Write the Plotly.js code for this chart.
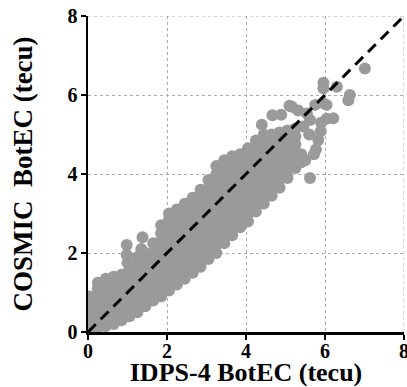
<!DOCTYPE html>
<html>
<head>
<meta charset="utf-8">
<script src="https://cdn.plot.ly/plotly-3.0.1.min.js"></script>
<style>html,body{margin:0;padding:0;background:#fff;}#chart{width:407px;height:387px;}</style>
</head>
<body>
<div id="chart"></div>
<script>
// Scatter points: [IDPS-4 BotEC, COSMIC BotEC] (tecu)
const points = [
 [0.05,0.1],[0.05,0.3],[0.05,0.5],[0.05,0.7],[0.05,0.9],
 [0.25,0.1],[0.25,0.3],[0.25,0.5],[0.25,0.7],[0.25,0.9],[0.25,1.1],[0.25,1.25],
 [0.45,0.15],[0.45,0.35],[0.45,0.55],[0.45,0.75],[0.45,0.95],[0.45,1.15],[0.45,1.35],
 [0.65,0.2],[0.65,0.4],[0.65,0.6],[0.65,0.8],[0.65,1.0],[0.65,1.2],[0.65,1.4],
 [0.85,0.3],[0.85,0.5],[0.85,0.7],[0.85,0.9],[0.85,1.1],[0.85,1.3],[0.85,1.45],
 [1.0,1.75],[0.98,1.95],[0.98,2.2],
 [1.05,0.4],[1.05,0.6],[1.05,0.8],[1.05,1.0],[1.05,1.2],[1.05,1.4],[1.05,1.6],
 [1.25,0.5],[1.25,0.7],[1.25,0.9],[1.25,1.1],[1.25,1.3],[1.25,1.5],[1.25,1.7],[1.25,1.9],
 [1.35,2.1],[1.38,2.4],
 [1.45,0.65],[1.45,0.85],[1.45,1.05],[1.45,1.25],[1.45,1.45],[1.45,1.65],[1.45,1.85],[1.45,2.0],
 [1.65,0.8],[1.65,1.0],[1.65,1.2],[1.65,1.4],[1.65,1.6],[1.65,1.8],[1.65,2.0],[1.65,2.25],
 [1.85,0.9],[1.85,1.1],[1.85,1.3],[1.85,1.5],[1.85,1.7],[1.85,1.9],[1.85,2.1],[1.85,2.3],[1.85,2.5],[1.85,2.7],
 [2.05,1.05],[2.05,1.25],[2.05,1.45],[2.05,1.65],[2.05,1.85],[2.05,2.05],[2.05,2.25],[2.05,2.45],[2.05,2.65],[2.05,2.85],[2.05,3.0],
 [2.25,1.2],[2.25,1.4],[2.25,1.6],[2.25,1.8],[2.25,2.0],[2.25,2.2],[2.25,2.4],[2.25,2.6],[2.25,2.8],[2.25,3.0],[2.25,3.1],
 [2.45,1.35],[2.45,1.55],[2.45,1.75],[2.45,1.95],[2.45,2.15],[2.45,2.35],[2.45,2.55],[2.45,2.75],[2.45,2.95],[2.45,3.15],[2.45,3.25],
 [2.65,1.5],[2.65,1.7],[2.65,1.9],[2.65,2.1],[2.65,2.3],[2.65,2.5],[2.65,2.7],[2.65,2.9],[2.65,3.1],[2.65,3.3],[2.65,3.4],
 [2.85,1.65],[2.85,1.85],[2.85,2.05],[2.85,2.25],[2.85,2.45],[2.85,2.65],[2.85,2.85],[2.85,3.05],[2.85,3.25],[2.85,3.45],[2.85,3.6],
 [3.05,1.85],[3.05,2.05],[3.05,2.25],[3.05,2.45],[3.05,2.65],[3.05,2.85],[3.05,3.05],[3.05,3.25],[3.05,3.45],[3.05,3.65],[3.05,3.85],
 [3.25,2.0],[3.25,2.2],[3.25,2.4],[3.25,2.6],[3.25,2.8],[3.25,3.0],[3.25,3.2],[3.25,3.4],[3.25,3.6],[3.25,3.8],[3.25,4.0],[3.25,4.2],
 [3.45,2.25],[3.45,2.45],[3.45,2.65],[3.45,2.85],[3.45,3.05],[3.45,3.25],[3.45,3.45],[3.45,3.65],[3.45,3.85],[3.45,4.05],[3.45,4.25],[3.45,4.35],
 [3.65,2.45],[3.65,2.65],[3.65,2.85],[3.65,3.05],[3.65,3.25],[3.65,3.45],[3.65,3.65],[3.65,3.85],[3.65,4.05],[3.65,4.25],[3.65,4.45],
 [3.85,2.65],[3.85,2.85],[3.85,3.05],[3.85,3.25],[3.85,3.45],[3.85,3.65],[3.85,3.85],[3.85,4.05],[3.85,4.25],[3.85,4.5],
 [4.05,2.8],[4.05,3.0],[4.05,3.2],[4.05,3.4],[4.05,3.6],[4.05,3.8],[4.05,4.0],[4.05,4.2],[4.05,4.4],[4.05,4.65],
 [4.25,3.05],[4.25,3.25],[4.25,3.45],[4.25,3.65],[4.25,3.85],[4.25,4.05],[4.25,4.25],[4.25,4.45],[4.25,4.65],[4.25,4.85],
 [4.45,3.25],[4.45,3.45],[4.45,3.65],[4.45,3.85],[4.45,4.05],[4.45,4.25],[4.45,4.45],[4.45,4.65],[4.45,4.85],[4.45,5.0],
 [4.65,3.45],[4.65,3.65],[4.65,3.85],[4.65,4.05],[4.65,4.25],[4.65,4.45],[4.65,4.65],[4.65,4.85],[4.65,5.0],
 [4.85,3.65],[4.85,3.85],[4.85,4.05],[4.85,4.25],[4.85,4.45],[4.85,4.65],[4.85,4.85],[4.85,5.05],
 [5.05,3.9],[5.05,4.1],[5.05,4.3],[5.05,4.5],[5.05,4.7],[5.05,4.9],[5.05,5.1],
 [5.25,4.15],[5.25,4.35],[5.25,4.55],[5.25,4.75],[5.25,4.95],[5.25,5.15],
 [5.4,4.3],[5.4,4.5],
 [7.01,6.67],[5.96,6.31],[5.96,6.17],[6.30,6.21],[6.63,6.0],[6.59,5.87],
 [5.75,5.75],[5.95,5.8],[6.04,5.75],[6.04,5.4],[6.21,5.41],[5.9,5.3],[5.89,5.08],
 [5.77,4.62],[5.72,4.5],[5.83,4.86],[5.62,3.9],[5.5,4.35],
 [5.10,5.73],[5.32,5.61],[5.16,5.70],[4.67,5.49],[4.89,5.50],[4.40,5.25],
 [5.62,5.37],[5.54,5.53],[5.45,5.2],[5.6,5.0]
];
const idpsBotEC = points.map(p => p[0]);
const cosmicBotEC = points.map(p => p[1]);
const identityLine = [0, 8];
const tickVals = [0, 2, 4, 6, 8];
const tickText = ['0', '2', '4', '6', '8'];
const axisMax = 8;

const fontFam = '"Liberation Serif", "Times New Roman", serif';

const traces = [
  {
    type: 'scatter', mode: 'markers',
    x: idpsBotEC, y: cosmicBotEC,
    marker: {color: '#9a9a9a', size: 12, opacity: 1, line: {width: 0}},
    hoverinfo: 'skip', showlegend: false, cliponaxis: true
  },
  {
    type: 'scatter', mode: 'lines',
    x: identityLine, y: identityLine,
    line: {color: '#000000', width: 3, dash: '11px,7px'},
    hoverinfo: 'skip', showlegend: false
  }
];

const axisCommon = {
  range: [0, axisMax], autorange: false,
  tickmode: 'array', tickvals: tickVals, ticktext: tickText,
  showline: true, linecolor: '#000', linewidth: 2.5,
  ticks: 'outside', ticklen: 5, tickwidth: 2.5, tickcolor: '#000',
  showgrid: true, gridcolor: '#aaaaaa', gridwidth: 1, griddash: 'dot',
  zeroline: false, mirror: false, layer: 'below traces',
  ticklabeloverflow: 'allow',
  tickfont: {family: fontFam, size: 20, color: '#000', weight: 'bold'}
};

const layout = {
  width: 407, height: 387,
  margin: {l: 88, r: 3, t: 16, b: 55},
  paper_bgcolor: '#fff', plot_bgcolor: '#fff',
  xaxis: Object.assign({}, axisCommon, {
    ticklabelstandoff: -6,
    title: {text: '<b>IDPS-4 BotEC (tecu)</b>', font: {family: fontFam, size: 26, color: '#000'}, standoff: 2}
  }),
  yaxis: Object.assign({}, axisCommon, {
    ticklabelstandoff: -1,
    title: {text: '<b>COSMIC\u00a0 BotEC (tecu)</b>', font: {family: fontFam, size: 27, color: '#000'}, standoff: 27}
  }),
  shapes: [
    {type: 'line', xref: 'x', yref: 'paper', x0: axisMax, x1: axisMax, y0: 0, y1: 1,
     line: {color: '#aaaaaa', width: 1, dash: 'dot'}, layer: 'below'},
    {type: 'line', xref: 'paper', yref: 'y', x0: 0, x1: 1, y0: axisMax, y1: axisMax,
     line: {color: '#aaaaaa', width: 1, dash: 'dot'}, layer: 'below'}
  ],
  showlegend: false
};

Plotly.newPlot('chart', traces, layout, {displayModeBar: false, staticPlot: true});
</script>
</body>
</html>
